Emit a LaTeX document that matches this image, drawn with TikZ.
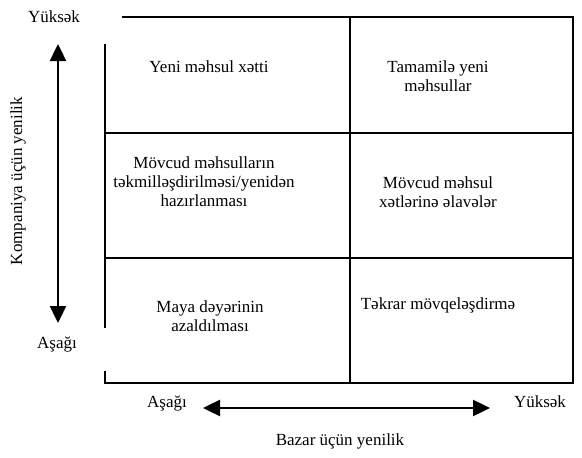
\documentclass[tikz,border=0pt]{standalone}
\usepackage{fontspec}
\setmainfont{Liberation Serif}
\usetikzlibrary{arrows.meta}
\begin{document}
\begin{tikzpicture}[x=1pt,y=-1pt,
  grid/.style={line width=1.3pt},
  axis/.style={line width=2.4pt,{Triangle[length=17pt,width=16pt]}-{Triangle[length=17pt,width=16pt]}},
  lbl/.style={font=\fontsize{17}{19}\selectfont,align=center,inner sep=0pt}]
\useasboundingbox (0,0) rectangle (582,458);
% grid coordinates
\coordinate (tl) at (122,17);
\coordinate (tr) at (573,17);
\coordinate (br) at (573,383);
\coordinate (bl) at (105,383);
\coordinate (lt) at (105,44);
\coordinate (lm1) at (105,328);
\coordinate (lm2) at (105,371);
\coordinate (mt) at (350,17);
\coordinate (mb) at (350,383);
\coordinate (h1l) at (105,133);
\coordinate (h1r) at (573,133);
\coordinate (h2l) at (105,258);
\coordinate (h2r) at (573,258);
\draw[grid] (tl) -- (tr) -- (br) -- (bl) -- (lm2);
\draw[grid] (lm1) -- (lt);
\draw[grid] (mt) -- (mb);
\draw[grid] (h1l) -- (h1r);
\draw[grid] (h2l) -- (h2r);
% axes
\coordinate (vt) at (58,44);
\coordinate (vb) at (58,323);
\coordinate (hl) at (203,408);
\coordinate (hr) at (490,408);
\draw[axis] (vt) -- (vb);
\draw[axis] (hl) -- (hr);
% axis labels
\node[lbl] (yk1) at (54,17) {Yüksək};
\node[lbl] (as1) at (57,345) {Aşağı};
\node[lbl] (as2) at (167,404) {Aşağı};
\node[lbl] (yk2) at (540,402) {Yüksək};
\node[lbl] (bz) at (340,441) {Bazar üçün yenilik};
\node[lbl,rotate=90] (kp) at (18,181) {Kompaniya üçün yenilik};
% cell texts
\node[lbl] (c1) at (209,67) {Yeni məhsul xətti};
\node[lbl] (c2) at (438,76) {Tamamilə yeni\\məhsullar};
\node[lbl] (c3) at (204,182) {Mövcud məhsulların\\təkmilləşdirilməsi/yenidən\\hazırlanması};
\node[lbl] (c4) at (438,192) {Mövcud məhsul\\xətlərinə əlavələr};
\node[lbl] (c5) at (210,316) {Maya dəyərinin\\azaldılması};
\node[lbl] (c6) at (438,305) {Təkrar mövqeləşdirmə};
\end{tikzpicture}
\end{document}
